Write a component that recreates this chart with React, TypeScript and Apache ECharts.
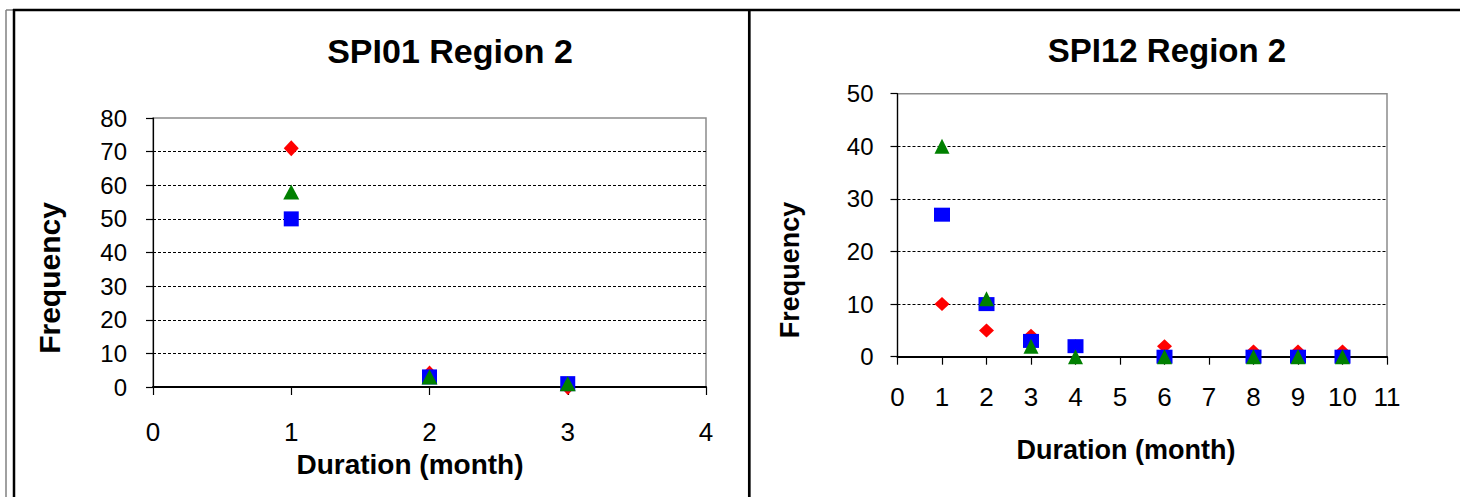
import React, { useEffect, useRef } from "react";
import * as echarts from "echarts";

// SPI01 Region 2
const spi01Durations = [1, 2, 3];
const spi01Red = [71, 4, 0];
const spi01Blue = [50, 3, 1];
const spi01Green = [58, 3, 1];

// SPI12 Region 2
const spi12Durations = [1, 2, 3, 4, 6, 8, 9, 10];
const spi12Red = [10, 5, 4, 2, 2, 1, 1, 1];
const spi12Blue = [27, 10, 3, 2, 0, 0, 0, 0];
const spi12Green = [40, 11, 2, 0, 0, 0, 0, 0];

const titles = ["SPI01 Region 2", "SPI12 Region 2"];
const xName = "Duration (month)";
const yName = "Frequency";

const FONT = "'Liberation Sans', Arial, sans-serif";
const RED = "#ff0000";
const BLUE = "#0000ff";
const GREEN = "#008000";

function pairs(xs: number[], ys: number[]) {
  return xs.map((x, i) => [x, ys[i]]);
}

export default function App() {
  const ref = useRef<HTMLDivElement>(null);
  useEffect(() => {
    document.body.style.margin = "0";
    if (!ref.current) return;
    const chart = echarts.init(ref.current, null, { renderer: "svg" });

    const mkX = (gi: number, max: number, fs: number, margin: number) => ({
      type: "value",
      gridIndex: gi,
      min: 0,
      max,
      interval: 1,
      axisLine: { show: true, onZero: false, lineStyle: { color: "#000", width: 2 } },
      axisTick: { show: true, inside: false, length: 8, lineStyle: { color: "#000", width: 1.2 } },
      axisLabel: { fontSize: fs, fontFamily: FONT, color: "#000", margin, showMaxLabel: true, showMinLabel: true },
      splitLine: { show: false },
    });
    const mkY = (gi: number, max: number, fs: number, margin: number) => ({
      type: "value",
      gridIndex: gi,
      min: 0,
      max,
      interval: 10,
      axisLine: { show: true, onZero: false, lineStyle: { color: "#000", width: 1.2 } },
      axisTick: { show: true, inside: false, length: 7, lineStyle: { color: "#000", width: 1.2 } },
      axisLabel: { fontSize: fs, fontFamily: FONT, color: "#000", margin },
      splitLine: {
        show: true,
        showMinLine: false,
        showMaxLine: false,
        lineStyle: { color: "#000", width: 1, type: [3, 2] },
      },
    });
    const mkS = (gi: number, xs: number[], ys: number[], symbol: string, color: string, size: any) => ({
      type: "scatter",
      xAxisIndex: gi,
      yAxisIndex: gi,
      data: pairs(xs, ys),
      symbol,
      symbolSize: size,
      itemStyle: { color, opacity: 1 },
      clip: false,
      emphasis: { disabled: true },
    });

    const line = (x1: number, y1: number, x2: number, y2: number, color: string, w: number) => ({
      type: "line",
      shape: { x1, y1, x2, y2 },
      style: { stroke: color, lineWidth: w },
      silent: true,
    });
    const txt = (x: number, y: number, text: string, fs: number, rot = 0) => ({
      type: "text",
      x,
      y,
      rotation: rot,
      style: {
        text,
        fontSize: fs,
        fontWeight: "bold",
        fontFamily: FONT,
        fill: "#000",
        align: "center",
        verticalAlign: "middle",
      },
      silent: true,
    });

    chart.setOption({
      animation: false,
      backgroundColor: "#fff",
      grid: [
        { left: 153, top: 118, width: 553, height: 269, show: true, borderColor: "#8c8c8c", borderWidth: 1.5, backgroundColor: "#fff" },
        { left: 897.5, top: 93.7, width: 489.5, height: 263, show: true, borderColor: "#8c8c8c", borderWidth: 1.5, backgroundColor: "#fff" },
      ],
      xAxis: [mkX(0, 4, 26, 32), mkX(1, 11, 26, 27)],
      yAxis: [mkY(0, 80, 24, 26), mkY(1, 50, 24, 24)],
      series: [
        mkS(0, spi01Durations, spi01Red, "diamond", RED, [15, 16]),
        mkS(0, spi01Durations, spi01Blue, "rect", BLUE, 15),
        mkS(0, spi01Durations, spi01Green, "triangle", GREEN, [16, 15]),
        mkS(1, spi12Durations, spi12Red, "diamond", RED, [15, 14]),
        mkS(1, spi12Durations, spi12Blue, "rect", BLUE, [16, 14]),
        mkS(1, spi12Durations, spi12Green, "triangle", GREEN, [15, 15]),
      ],
      graphic: [
        line(6, 10, 6, 497, "#808080", 1.5),
        line(6, 10, 13, 10, "#808080", 1.5),
        line(14, 9, 14, 497, "#000", 2.5),
        line(13, 10, 1460, 10, "#000", 2.4),
        line(749.3, 9, 749.3, 497, "#000", 2.7),
        txt(450, 51, titles[0], 34),
        txt(1167, 50, titles[1], 33),
        txt(410, 464, xName, 28),
        txt(1126, 450, xName, 27),
        txt(49, 278, yName, 30, Math.PI / 2),
        txt(790, 270, yName, 27, Math.PI / 2),
      ],
    });
    return () => chart.dispose();
  }, []);
  return <div ref={ref} style={{ width: 1460, height: 497 }} />;
}
